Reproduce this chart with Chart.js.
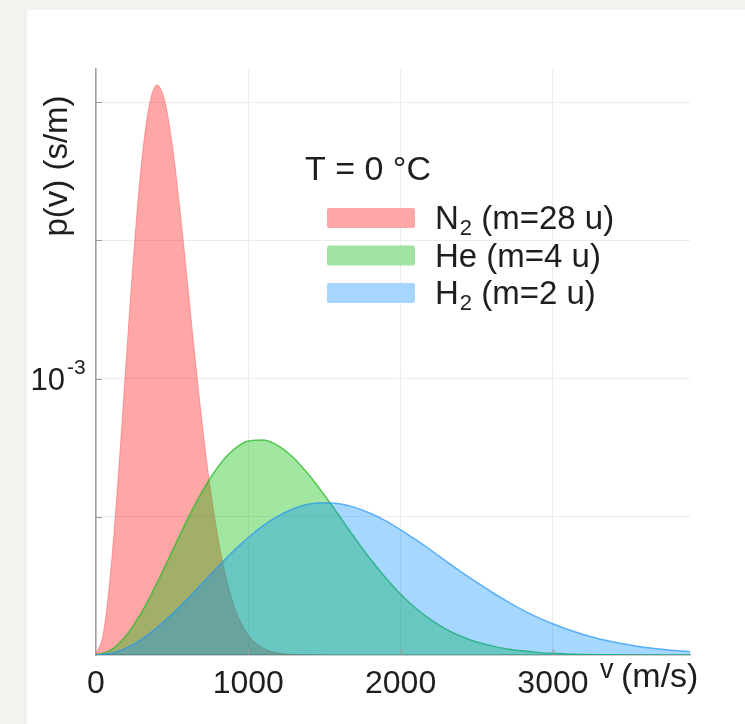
<!DOCTYPE html>
<html>
<head>
<meta charset="utf-8">
<script src="https://cdn.jsdelivr.net/npm/chart.js@4.4.1/dist/chart.umd.min.js"></script>
<style>
  html, body { margin: 0; padding: 0; background: #f3f2ee; }
  #card { position: absolute; left: 27px; top: 10px; width: 718px; height: 714px; background: #fff; }
</style>
</head>
<body>
<div id="card"><canvas id="grafico"></canvas></div>
<script>
// velocidades (m/s) e densidades p(v) em unidades de 10^-3 s/m
const n2Speeds = [0, 50, 100, 150, 200, 250, 300, 350, 400, 450, 500, 550, 600, 650, 700, 750,
                  800, 850, 900, 950, 1000, 1100, 1200, 1300, 1400, 1500];
const n2Values = [0, 0.085, 0.325, 0.677, 1.081, 1.470, 1.787, 1.990, 2.062, 2.008, 1.850, 1.619,
                  1.351, 1.078, 0.825, 0.605, 0.427, 0.290, 0.189, 0.119, 0.072, 0.024, 0.007,
                  0.002, 0.0004, 0];

const speeds = [0, 100, 200, 300, 400, 500, 600, 700, 800, 900, 1000, 1100, 1200, 1300, 1400,
                1500, 1600, 1700, 1800, 1900, 2000, 2100, 2200, 2300, 2400, 2500, 2600, 2700,
                2800, 2900, 3000, 3100, 3200, 3300, 3400, 3500, 3600, 3700, 3800, 3900];
const heValues = [0, 0.0185, 0.072, 0.155, 0.260, 0.375, 0.490, 0.594, 0.680, 0.741, 0.774, 0.778,
                  0.756, 0.712, 0.650, 0.578, 0.501, 0.4225, 0.348, 0.280, 0.220, 0.169, 0.127,
                  0.093, 0.067, 0.047, 0.033, 0.022, 0.015, 0.0095, 0.006, 0.0037, 0.0022, 0.0013,
                  0.0007, 0.0004, 0.0002, 0.0001, 0.0001, 0];
const h2Values = [0, 0.0066, 0.026, 0.057, 0.099, 0.148, 0.203, 0.261, 0.319, 0.375, 0.425, 0.469,
                  0.504, 0.530, 0.546, 0.551, 0.547, 0.534, 0.513, 0.486, 0.453, 0.417, 0.379,
                  0.339, 0.300, 0.263, 0.227, 0.194, 0.163, 0.136, 0.113, 0.092, 0.074, 0.059,
                  0.047, 0.037, 0.028, 0.022, 0.016, 0.012];

const xTicks = [0, 1000, 2000, 3000];
const legendLabels = [["N", "2", " (m=28 u)"], ["He", "", " (m=4 u)"], ["H", "2", " (m=2 u)"]];
const legendTitle = "T = 0 °C";

const FONT = '"Liberation Sans", Arial, Helvetica, sans-serif';
const cores = [
    { fill: 'rgba(255, 0, 0, 0.35)', line: 'rgba(255, 40, 40, 0.35)', box: 'rgb(255, 166, 166)' },
    { fill: 'rgba(0, 190, 0, 0.37)', line: 'rgba(40, 185, 40, 0.75)', box: 'rgb(161, 228, 161)' },
    { fill: 'rgba(0, 140, 255, 0.35)', line: 'rgba(40, 150, 245, 0.7)', box: 'rgb(166, 213, 255)' }
];

function pares(xs, ys) {
    return xs.map((v, i) => ({ x: v, y: ys[i] }));
}

// textos desenhados por cima do gráfico (legenda, títulos dos eixos, 10^-3)
const sobreposicao = {
    id: 'sobreposicao',
    afterDraw(chart) {
        const ctx = chart.ctx;
        const sx = chart.scales.x;
        const sy = chart.scales.y;
        const area = chart.chartArea;
        ctx.save();

        // marcas curtas para dentro
        ctx.strokeStyle = '#9a9a9a';
        ctx.lineWidth = 1;
        [0.5, 1, 1.5, 2].forEach((v) => {
            const py = Math.round(sy.getPixelForValue(v)) + 0.5;
            ctx.beginPath();
            ctx.moveTo(area.left, py);
            ctx.lineTo(area.left + 6, py);
            ctx.stroke();
        });
        xTicks.slice(1).forEach((v) => {
            const px = Math.round(sx.getPixelForValue(v)) + 0.5;
            ctx.beginPath();
            ctx.moveTo(px, area.bottom);
            ctx.lineTo(px, area.bottom - 6);
            ctx.stroke();
        });

        ctx.fillStyle = '#1e1e1e';

        // 10^-3
        const y1 = sy.getPixelForValue(1);
        ctx.font = '31px ' + FONT;
        ctx.textAlign = 'right';
        ctx.textBaseline = 'alphabetic';
        ctx.fillText('10', area.left - 31, y1 + 11);
        ctx.font = '21px ' + FONT;
        ctx.textAlign = 'left';
        ctx.fillText('-3', area.left - 29, y1 - 5);

        // título do eixo y
        ctx.save();
        ctx.translate(31, 156);
        ctx.rotate(-Math.PI / 2);
        ctx.font = '33px ' + FONT;
        ctx.textAlign = 'center';
        ctx.textBaseline = 'middle';
        ctx.fillText('p(v) (s/m)', 0, 0);
        ctx.restore();

        // título do eixo x ("v" um pouco acima)
        ctx.textAlign = 'left';
        ctx.textBaseline = 'alphabetic';
        ctx.font = '27px ' + FONT;
        ctx.fillText('v', 573, 668);
        ctx.font = '34px ' + FONT;
        ctx.fillText('(m/s)', 594, 677);

        // legenda
        ctx.font = '34px ' + FONT;
        ctx.fillText(legendTitle, 278, 170);
        legendLabels.forEach((partes, i) => {
            const cy = 208 + i * 37.5;
            ctx.fillStyle = cores[i].box;
            ctx.beginPath();
            ctx.roundRect(300, cy - 10, 88, 20, 2);
            ctx.fill();
            ctx.fillStyle = '#1e1e1e';
            let px = 408;
            const base = cy + 11;
            ctx.font = '33px ' + FONT;
            ctx.fillText(partes[0], px, base);
            px += ctx.measureText(partes[0]).width;
            if (partes[1]) {
                ctx.font = '22px ' + FONT;
                ctx.fillText(partes[1], px + 1, base + 6);
                px += ctx.measureText(partes[1]).width + 1;
            }
            ctx.font = '33px ' + FONT;
            ctx.fillText(partes[2], px, base);
        });

        ctx.restore();
    }
};

const ctx = document.getElementById('grafico').getContext('2d');
const grafico = new Chart(ctx, {
    type: 'line',
    data: {
        datasets: [
            {
                label: 'N2 (m=28 u)',
                data: pares(n2Speeds, n2Values),
                backgroundColor: cores[0].fill,
                borderColor: cores[0].line,
                borderWidth: 1,
                fill: 'origin',
                order: 3
            },
            {
                label: 'He (m=4 u)',
                data: pares(speeds, heValues),
                backgroundColor: cores[1].fill,
                borderColor: cores[1].line,
                borderWidth: 1.5,
                fill: 'origin',
                order: 2
            },
            {
                label: 'H2 (m=2 u)',
                data: pares(speeds, h2Values),
                backgroundColor: cores[2].fill,
                borderColor: cores[2].line,
                borderWidth: 1.5,
                fill: 'origin',
                order: 1
            }
        ]
    },
    options: {
        responsive: true,
        maintainAspectRatio: false,
        animation: false,
        layout: { padding: { top: 59, right: 55, left: 0, bottom: 0 } },
        elements: {
            point: { radius: 0 },
            line: { cubicInterpolationMode: 'monotone' }
        },
        plugins: {
            legend: { display: false },
            tooltip: { enabled: false }
        },
        scales: {
            x: {
                type: 'linear',
                min: 0,
                max: 3900,
                afterFit: (scale) => { scale.height = 69; },
                afterBuildTicks: (scale) => { scale.ticks = xTicks.map((v) => ({ value: v })); },
                ticks: {
                    font: { size: 32, family: FONT },
                    color: '#1e1e1e',
                    padding: 10,
                    maxRotation: 0,
                    callback: (v) => String(v)
                },
                grid: { color: '#ececec', drawTicks: false },
                border: { color: '#b0b0b0', width: 1.5 }
            },
            y: {
                min: 0,
                max: 2.12,
                afterFit: (scale) => { scale.width = 69; },
                ticks: {
                    stepSize: 0.5,
                    includeBounds: false,
                    callback: () => ''
                },
                grid: { color: '#ececec', drawTicks: false },
                border: { color: '#a0a0a0', width: 1.5 }
            }
        }
    },
    plugins: [sobreposicao]
});
</script>
</body>
</html>
